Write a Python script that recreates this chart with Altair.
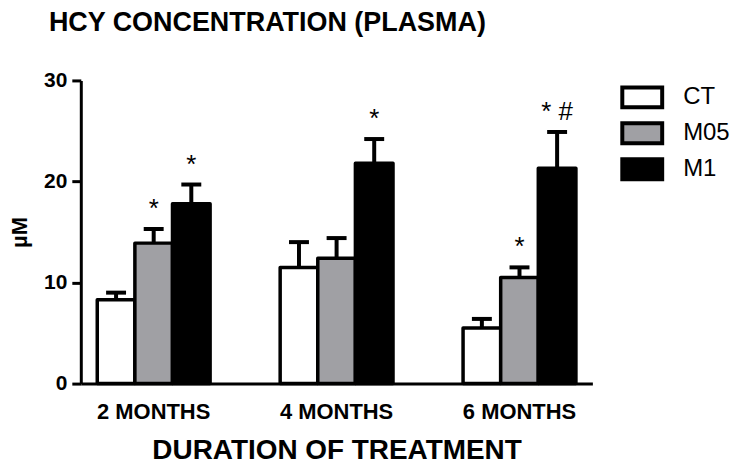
import altair as alt
import pandas as pd

months = ["2 MONTHS", "4 MONTHS", "6 MONTHS"]
groups = ["CT", "M05", "M1"]
colors = ["#ffffff", "#a0a0a4", "#000000"]

mean_ct = [8.3, 11.5, 5.5]
mean_m05 = [13.9, 12.4, 10.5]
mean_m1 = [17.8, 21.8, 21.3]

upper_ct = [9.0, 14.0, 6.4]
upper_m05 = [15.3, 14.4, 11.5]
upper_m1 = [19.7, 24.2, 24.9]

sig_ct = ["", "", ""]
sig_m05 = ["*", "", "*"]
sig_m1 = ["*", "*", "* #"]

rows = []
for g, mv, uv, sv in [("CT", mean_ct, upper_ct, sig_ct),
                      ("M05", mean_m05, upper_m05, sig_m05),
                      ("M1", mean_m1, upper_m1, sig_m1)]:
    for m, a, b, s in zip(months, mv, uv, sv):
        rows.append({"month": m, "group": g, "mean": a, "upper": b, "sig": s})
df = pd.DataFrame(rows)

FONT = "Liberation Sans"

x = alt.X("month:N", sort=months,
          scale=alt.Scale(paddingInner=0.383, paddingOuter=0.09),
          axis=alt.Axis(title="DURATION OF TREATMENT", labelAngle=0, ticks=False,
                        labelPadding=18, labelFontSize=22, titleFontSize=28,
                        titlePadding=14))
xo = alt.XOffset("group:N", sort=groups, scale=alt.Scale(paddingInner=0, paddingOuter=0))
yscale = alt.Scale(domain=[0, 30], nice=False)

base = alt.Chart(df)

bars = base.mark_bar(stroke="black", strokeWidth=3.5, strokeJoin="round").encode(
    x=x, xOffset=xo,
    y=alt.Y("mean:Q", scale=yscale,
            axis=alt.Axis(values=[0, 10, 20, 30], title="µM", grid=False,
                          labelFontSize=21, titleFontSize=22, titlePadding=12,
                          tickSize=9, labelPadding=5)),
    fill=alt.Fill("group:N", sort=groups,
                  scale=alt.Scale(domain=groups, range=colors),
                  legend=alt.Legend(title=None, orient="none", legendX=551, legendY=5,
                                    symbolType="M-2,-1H2V1H-2Z",
                                    symbolSize=400, symbolStrokeWidth=4,
                                    symbolStrokeColor="black", symbolOpacity=1,
                                    labelFontSize=24, labelFont=FONT,
                                    labelFontWeight="normal", labelOffset=29,
                                    rowPadding=0, labelColor="black")),
)

err = base.mark_rule(color="black", strokeWidth=4).encode(
    x=x, xOffset=xo, y=alt.Y("mean:Q", scale=yscale), y2="upper:Q")

caps = base.mark_tick(color="black", size=20, thickness=4, opacity=1).encode(
    x=x, xOffset=xo, y=alt.Y("upper:Q", scale=yscale))

stars = base.mark_text(font=FONT, fontSize=26, baseline="middle", dy=-20, color="black").encode(
    x=x, xOffset=xo, y=alt.Y("upper:Q", scale=yscale), text="sig:N")

chart = alt.layer(bars, err, caps, stars).properties(
    width=513, height=304,
    padding={"left": 0, "top": 0, "right": 0, "bottom": 0},
    title=alt.TitleParams("HCY CONCENTRATION (PLASMA)", anchor="start", frame="group",
                          dx=-32, fontSize=27, font=FONT, fontWeight="bold",
                          color="black", offset=33),
).configure_axis(
    domainColor="black", domainWidth=3, tickColor="black", tickWidth=3,
    labelFont=FONT, labelFontWeight="bold", labelColor="black",
    titleFont=FONT, titleFontWeight="bold", titleColor="black",
).configure_view(stroke=None)

chart.save("out.html", embed_options={"renderer": "svg", "actions": False})
